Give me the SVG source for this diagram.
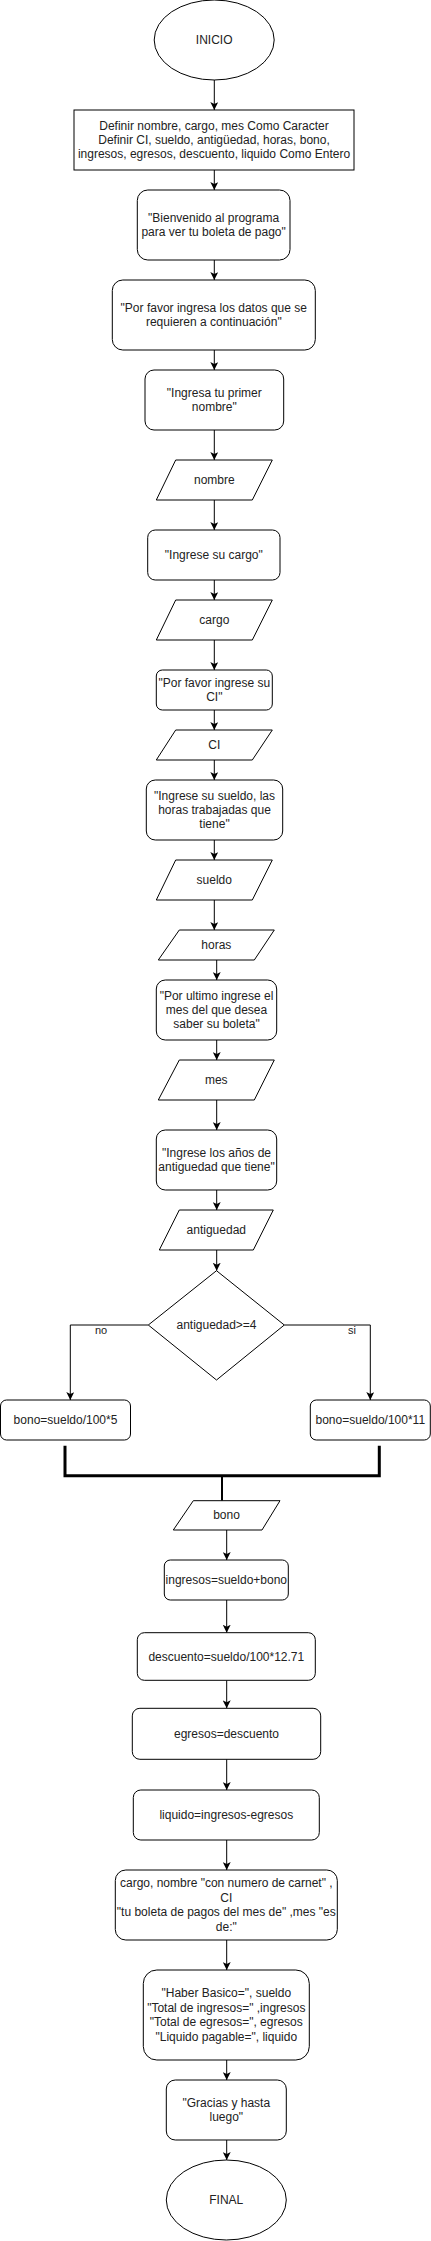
<svg xmlns="http://www.w3.org/2000/svg" width="431" height="2241" viewBox="0 0 431 2241">
<style>
.s{fill:#fff;stroke:#000;stroke-width:1}
.t{font-family:"Liberation Sans",Arial,sans-serif;font-size:12px;fill:#222;text-anchor:middle}
.l{font-family:"Liberation Sans",Arial,sans-serif;font-size:11px;fill:#222;text-anchor:middle}
.c{fill:none;stroke:#000;stroke-width:1}
</style>
<defs>
<marker id="a" markerUnits="userSpaceOnUse" markerWidth="8" markerHeight="8" viewBox="0 0 8 8" refX="8" refY="4" orient="auto">
<path d="M0,0 L8,4 L0,8 L2,4 z" fill="#000"/>
</marker>
</defs>
<rect width="431" height="2241" fill="#fff"/>
<g id="connectors">
<path class="c" marker-end="url(#a)" d="M214.3,80 V110"/>
<path class="c" marker-end="url(#a)" d="M214.3,170 V190"/>
<path class="c" marker-end="url(#a)" d="M214.3,260 V280"/>
<path class="c" marker-end="url(#a)" d="M214.3,350 V370"/>
<path class="c" marker-end="url(#a)" d="M214.3,430 V460"/>
<path class="c" marker-end="url(#a)" d="M214.3,500 V530"/>
<path class="c" marker-end="url(#a)" d="M214.3,580 V600"/>
<path class="c" marker-end="url(#a)" d="M214.3,640 V670"/>
<path class="c" marker-end="url(#a)" d="M214.3,710 V730"/>
<path class="c" marker-end="url(#a)" d="M214.3,760 V780"/>
<path class="c" marker-end="url(#a)" d="M214.3,840 V860"/>
<path class="c" marker-end="url(#a)" d="M214.3,900 V930"/>
<path class="c" marker-end="url(#a)" d="M216.7,960 V980"/>
<path class="c" marker-end="url(#a)" d="M216.7,1040 V1060"/>
<path class="c" marker-end="url(#a)" d="M216.7,1100 V1130"/>
<path class="c" marker-end="url(#a)" d="M216.7,1190 V1210"/>
<path class="c" marker-end="url(#a)" d="M216.7,1250 V1270.7"/>
<path class="c" marker-end="url(#a)" d="M148.3,1325 H70.3 V1400"/>
<text class="l" x="101" y="1334">no</text>
<path class="c" marker-end="url(#a)" d="M284.3,1325 H370.3 V1400"/>
<text class="l" x="352" y="1334">si</text>
<path class="c" style="stroke-width:2" d="M222,1475.7 V1500.7"/>
<path class="c" marker-end="url(#a)" d="M226.7,1530 V1560"/>
<path class="c" marker-end="url(#a)" d="M226.7,1600 V1632.7"/>
<path class="c" marker-end="url(#a)" d="M226.7,1680.3 V1708.3"/>
<path class="c" marker-end="url(#a)" d="M226.7,1759.3 V1790"/>
<path class="c" marker-end="url(#a)" d="M226.7,1840 V1870"/>
<path class="c" marker-end="url(#a)" d="M226.7,1940 V1970"/>
<path class="c" marker-end="url(#a)" d="M226.7,2060 V2080"/>
<path class="c" marker-end="url(#a)" d="M226.7,2140 V2160"/>
</g>
<g id="inicio"><ellipse class="s" cx="214.2" cy="40" rx="60" ry="40"/><text class="t" x="214.2" y="44">INICIO</text></g>
<g id="definir"><rect class="s" x="74" y="110" width="280" height="60"/>
<text class="t" x="214" y="129.6">Definir nombre, cargo, mes Como Caracter</text>
<text class="t" x="214" y="144">Definir CI, sueldo, antigüedad, horas, bono,</text>
<text class="t" x="214" y="158.4">ingresos, egresos, descuento, liquido Como Entero</text></g>
<g id="bienvenido"><rect class="s" x="137.3" y="190" width="152.7" height="70" rx="10.5"/>
<text class="t" x="213.6" y="221.8">"Bienvenido al programa</text>
<text class="t" x="213.6" y="236.2">para ver tu boleta de pago"</text></g>
<g id="porfavor"><rect class="s" x="112.3" y="280" width="203" height="70" rx="10.5"/>
<text class="t" x="213.8" y="311.8">"Por favor ingresa los datos que se</text>
<text class="t" x="213.8" y="326.2">requieren a continuación"</text></g>
<g id="ingresanombre"><rect class="s" x="145" y="370" width="138.7" height="60" rx="9"/>
<text class="t" x="214.3" y="396.8">"Ingresa tu primer</text>
<text class="t" x="214.3" y="411.2">nombre"</text></g>
<g id="nombre"><polygon class="s" points="175.7,460 272.3,460 252.3,500 156.3,500"/><text class="t" x="214.3" y="484">nombre</text></g>
<g id="ingresecargo"><rect class="s" x="147.7" y="530" width="132.3" height="50" rx="7.5"/>
<text class="t" x="213.8" y="559">"Ingrese su cargo"</text></g>
<g id="cargo"><polygon class="s" points="175.7,600 272.3,600 252.3,640 156.3,640"/><text class="t" x="214.3" y="624">cargo</text></g>
<g id="ingreseci"><rect class="s" x="156.3" y="670" width="116" height="40" rx="6"/>
<text class="t" x="214.3" y="686.8">"Por favor ingrese su</text>
<text class="t" x="214.3" y="701.2">CI"</text></g>
<g id="ci"><polygon class="s" points="175.7,730 272.3,730 252.3,760 156.3,760"/><text class="t" x="214.3" y="749">CI</text></g>
<g id="ingresesueldo"><rect class="s" x="146.3" y="780" width="136.4" height="60" rx="9"/>
<text class="t" x="214.5" y="799.6">"Ingrese su sueldo, las</text>
<text class="t" x="214.5" y="814">horas trabajadas que</text>
<text class="t" x="214.5" y="828.4">tiene"</text></g>
<g id="sueldo"><polygon class="s" points="175.7,860 272.3,860 252.3,900 156.3,900"/><text class="t" x="214.3" y="884">sueldo</text></g>
<g id="horas"><polygon class="s" points="179.3,930 274.3,930 254.3,960 158.3,960"/><text class="t" x="216.3" y="949">horas</text></g>
<g id="ingresemes"><rect class="s" x="156.3" y="980" width="120.4" height="60" rx="9"/>
<text class="t" x="216.5" y="999.6">"Por ultimo ingrese el</text>
<text class="t" x="216.5" y="1014">mes del que desea</text>
<text class="t" x="216.5" y="1028.4">saber su boleta"</text></g>
<g id="mes"><polygon class="s" points="179.3,1060 274.3,1060 254.3,1100 158.3,1100"/><text class="t" x="216.3" y="1084">mes</text></g>
<g id="ingreseanos"><rect class="s" x="156.3" y="1130" width="120.4" height="60" rx="9"/>
<text class="t" x="216.5" y="1156.8">"Ingrese los años de</text>
<text class="t" x="216.5" y="1171.2">antiguedad que tiene"</text></g>
<g id="antiguedad"><polygon class="s" points="179.3,1210 273.3,1210 253.3,1250 159.3,1250"/><text class="t" x="216.3" y="1234">antiguedad</text></g>
<g id="decision"><polygon class="s" points="216.5,1270.7 284.3,1325 216.5,1380 148.3,1325"/><text class="t" x="216.5" y="1329">antiguedad&gt;=4</text></g>
<g id="bono5"><rect class="s" x="0.5" y="1400" width="130" height="40" rx="6"/><text class="t" x="65.5" y="1424">bono=sueldo/100*5</text></g>
<g id="bono11"><rect class="s" x="310.3" y="1400" width="120" height="40" rx="6"/><text class="t" x="370.3" y="1424">bono=sueldo/100*11</text></g>
<g id="merge"><path d="M65,1445.7 V1475.7 H379.3 V1445.7" fill="none" stroke="#000" stroke-width="3"/></g>
<g id="bono"><polygon class="s" points="193.3,1500.7 280,1500.7 262,1530 173.3,1530"/><text class="t" x="226.5" y="1519">bono</text></g>
<g id="ingresos"><rect class="s" x="164.3" y="1560" width="124" height="40" rx="6"/><text class="t" x="226.3" y="1584">ingresos=sueldo+bono</text></g>
<g id="descuento"><rect class="s" x="137.3" y="1632.7" width="178" height="47.6" rx="7"/><text class="t" x="226.3" y="1660.5">descuento=sueldo/100*12.71</text></g>
<g id="egresos"><rect class="s" x="132.3" y="1708.3" width="188.4" height="51" rx="7.6"/><text class="t" x="226.5" y="1738">egresos=descuento</text></g>
<g id="liquido"><rect class="s" x="133.3" y="1790" width="186" height="50" rx="7.5"/><text class="t" x="226.3" y="1819">liquido=ingresos-egresos</text></g>
<g id="salida1"><rect class="s" x="115.3" y="1870" width="222" height="70" rx="10.5"/>
<text class="t" x="226.3" y="1887.4">cargo, nombre "con numero de carnet" ,</text>
<text class="t" x="226.3" y="1901.8">CI</text>
<text class="t" x="226.3" y="1916.2">"tu boleta de pagos del mes de" ,mes "es</text>
<text class="t" x="226.3" y="1930.6">de:"</text></g>
<g id="salida2"><rect class="s" x="143.3" y="1970" width="166" height="90" rx="13.5"/>
<text class="t" x="226.3" y="1997.4">"Haber Basico=", sueldo</text>
<text class="t" x="226.3" y="2011.8">"Total de ingresos=" ,ingresos</text>
<text class="t" x="226.3" y="2026.2">"Total de egresos=", egresos</text>
<text class="t" x="226.3" y="2040.6">"Liquido pagable=", liquido</text></g>
<g id="gracias"><rect class="s" x="166.3" y="2080" width="120" height="60" rx="9"/>
<text class="t" x="226.3" y="2106.8">"Gracias y hasta</text>
<text class="t" x="226.3" y="2121.2">luego"</text></g>
<g id="final"><ellipse class="s" cx="226.3" cy="2200" rx="60" ry="40"/><text class="t" x="226.3" y="2204">FINAL</text></g>
</svg>
